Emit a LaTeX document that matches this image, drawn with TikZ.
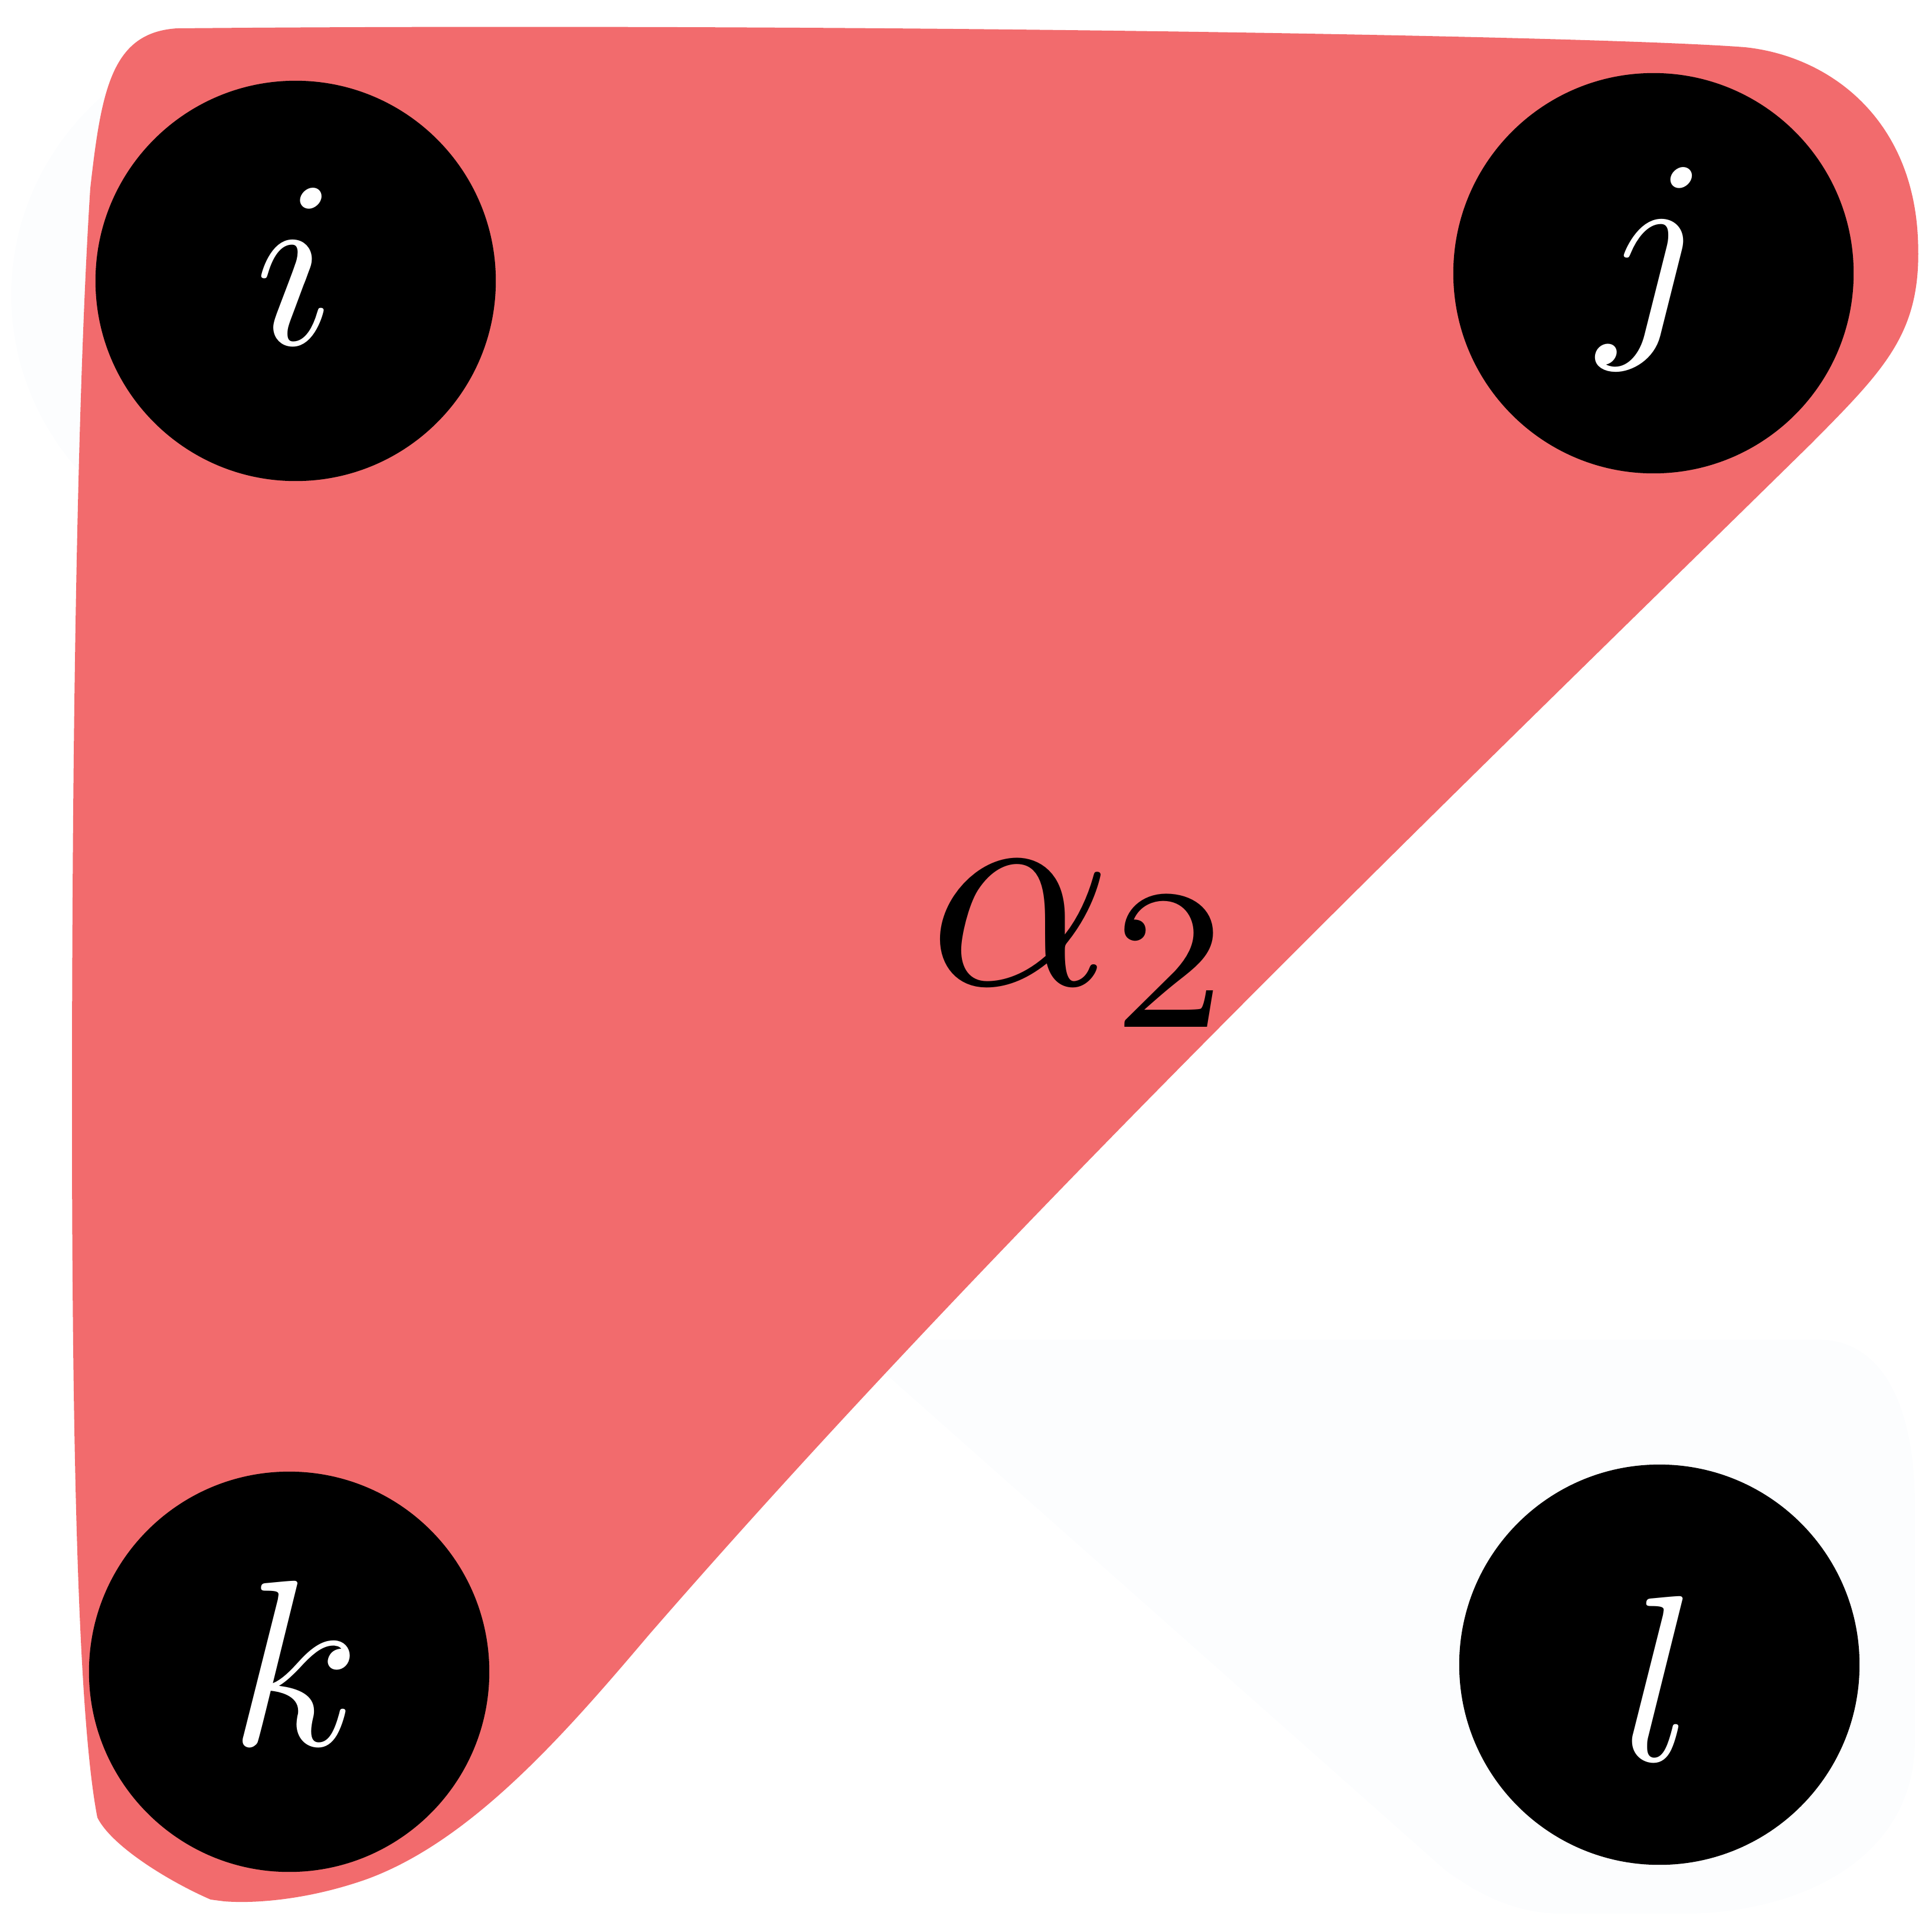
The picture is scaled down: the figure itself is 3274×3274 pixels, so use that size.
\documentclass[tikz,border=0pt]{standalone}
\usepackage{graphicx}
\definecolor{hyperred}{RGB}{242,107,109}
\definecolor{faint}{RGB}{252,253,254}
\tikzset{
  vertex/.style={circle, fill=black, minimum size=6.78cm, inner sep=0pt},
  vlabel/.style={text=white, inner sep=0pt},
  edgelabel/.style={inner sep=0pt, anchor=base west, text=black},
  hyperedge/.style={fill=hyperred, draw=none},
  faintedge/.style={fill=faint, draw=none}
}
\begin{document}
\begin{tikzpicture}[x=0.01cm, y=-0.01cm]
\useasboundingbox (0,0) rectangle (3274,3274);
% faint background hyperedges
\fill[faintedge] (501,500) ellipse [x radius=482, y radius=460];
\fill[faintedge] (1460,2292) .. controls (1452,2274) and (1468,2270) .. (1500,2270)
  -- (3080,2270) .. controls (3200,2270) and (3245,2400) .. (3245,2550)
  -- (3245,2950) .. controls (3245,3150) and (3050,3243) .. (2850,3243)
  -- (2650,3243) .. controls (2560,3243) and (2500,3205) .. (2450,3170) -- cycle;
% red hyperedge
\fill[hyperedge] (300,48) .. controls (1400,38) and (2700,60) .. (2957,80)
  .. controls (3100,95) and (3240,200) .. (3250,402)
  .. controls (3258,560) and (3200,620) .. (3069,752)
  .. controls (2450,1360) and (1700,2080) .. (1100,2770)
  .. controls (960,2935) and (800,3120) .. (620,3185)
  .. controls (520,3220) and (430,3226) .. (380,3222)
  -- (357,3219)
  .. controls (290,3190) and (190,3130) .. (165,3080)
  .. controls (130,2900) and (122,2400) .. (122,1880)
  .. controls (122,1100) and (135,600) .. (153,319)
  .. controls (172,150) and (190,55) .. (300,48) -- cycle;
% vertices
\node[vertex, label={[vlabel, yshift=0.25cm]center:\scalebox{11.4}{$i$}}] (i) at (501,476) {};
\node[vertex, label={[vlabel, yshift=0.08cm]center:\scalebox{11.4}{$j$}}] (j) at (2802,463) {};
\node[vertex, label={[vlabel, yshift=0.15cm, xshift=0.1cm]center:\scalebox{11.4}{$k$}}] (k) at (490,2833) {};
\node[vertex, label={[vlabel, yshift=-0.23cm]center:\scalebox{11.4}{$l$}}] (l) at (2812,2821) {};
\node[edgelabel] (a2) at (1573,1668) {\scalebox{13.8}{$\alpha_2$}};
\end{tikzpicture}
\end{document}
